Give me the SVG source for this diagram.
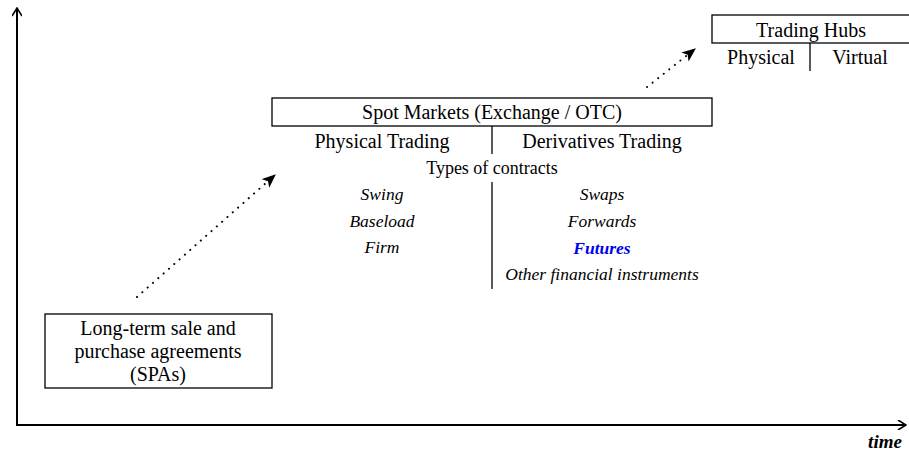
<svg xmlns="http://www.w3.org/2000/svg" width="909" height="453" viewBox="0 0 909 453">
<defs>
<marker id="open" viewBox="0 0 10 10" refX="9" refY="5" markerWidth="10" markerHeight="10" markerUnits="userSpaceOnUse" orient="auto">
<path d="M1,0 L9,5 L1,10" fill="none" stroke="#000" stroke-width="1.6"/>
</marker>
<marker id="stealth" viewBox="0 0 12 10" refX="11" refY="5" markerWidth="14" markerHeight="12" markerUnits="userSpaceOnUse" orient="auto">
<path d="M0,0 L12,5 L0,10 L3,5 Z" fill="#000"/>
</marker>
<style>
text{font-family:"Liberation Serif","Times New Roman",serif;fill:#000;text-anchor:middle}
.big{font-size:20px}
.sm{font-size:18px}
.it{font-size:17.5px;font-style:italic}
.box{fill:#fff;stroke:#000;stroke-width:1.3}
.ln{stroke:#000;stroke-width:1.3}
.axis{stroke:#000;stroke-width:2;fill:none}
.dot{stroke:#000;stroke-width:2;stroke-dasharray:0.1 7;stroke-linecap:round;fill:none}
</style>
</defs>
<g id="axes">
<line class="axis" x1="17" y1="425" x2="17" y2="8" marker-end="url(#open)"/>
<line class="axis" x1="16" y1="425" x2="906" y2="425" marker-end="url(#open)"/>
<text x="885" y="448" style="font-size:19px;font-style:italic;font-weight:bold">time</text>
</g>
<g id="spa">
<rect class="box" x="45" y="314" width="227" height="74"/>
<text class="big" x="158" y="335">Long-term sale and</text>
<text class="big" x="158" y="358">purchase agreements</text>
<text class="big" x="158" y="381">(SPAs)</text>
</g>
<g id="spot">
<rect class="box" x="272" y="98" width="440" height="28"/>
<text class="big" x="492" y="119">Spot Markets (Exchange / OTC)</text>
<line class="ln" x1="492" y1="126" x2="492" y2="154"/>
<text class="big" x="382" y="148">Physical Trading</text>
<text class="big" x="602" y="148">Derivatives Trading</text>
<text class="sm" x="492" y="174">Types of contracts</text>
<line class="ln" x1="492" y1="182" x2="492" y2="289"/>
<text class="it" x="382" y="200">Swing</text>
<text class="it" x="382" y="227">Baseload</text>
<text class="it" x="382" y="253">Firm</text>
<text class="it" x="602" y="200">Swaps</text>
<text class="it" x="602" y="227">Forwards</text>
<text class="it" x="602" y="254" style="fill:#0000ee;font-weight:bold">Futures</text>
<text class="it" x="602" y="280">Other financial instruments</text>
</g>
<g id="hubs">
<rect class="box" x="712" y="15" width="200" height="28"/>
<text class="big" x="811" y="37">Trading Hubs</text>
<line class="ln" x1="810" y1="43" x2="810" y2="71"/>
<text class="big" x="761" y="64">Physical</text>
<text class="big" x="860" y="64">Virtual</text>
</g>
<g id="connectors">
<line class="dot" x1="137" y1="297" x2="275" y2="175" marker-end="url(#stealth)"/>
<line class="dot" x1="647" y1="87" x2="695" y2="49" marker-end="url(#stealth)"/>
</g>
</svg>
